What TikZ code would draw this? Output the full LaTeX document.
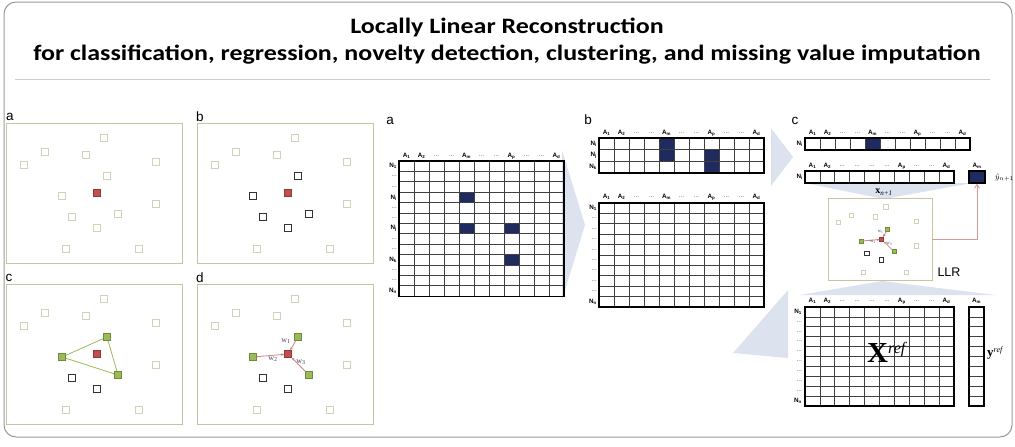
\documentclass[tikz,border=0pt]{standalone}
\usepackage{fontspec}
\setmainfont{Liberation Sans}
\newfontfamily\ttlfont[FakeStretch=1.18]{Carlito}
\newfontfamily\srf{Liberation Serif}
\usetikzlibrary{arrows.meta}
\definecolor{sqborder}{HTML}{D5D0BA}
\definecolor{boxc}{HTML}{C9C3A4}
\definecolor{redf}{HTML}{C0504D}
\definecolor{redb}{HTML}{943634}
\definecolor{greenf}{HTML}{9BBB59}
\definecolor{greenb}{HTML}{71893F}
\definecolor{wedgec}{HTML}{DCE2EE}
\definecolor{navy}{HTML}{1F2A5E}
\definecolor{wlinec}{HTML}{C98583}
\definecolor{arrowc}{HTML}{D49A98}
\definecolor{wtext}{HTML}{4A4560}
\tikzset{
  sq/.style={draw, minimum size=7pt, inner sep=0pt, line width=0.7pt},
  lsq/.style={sq, draw=sqborder, fill=white},
  rsq/.style={sq, draw=redb, fill=redf},
  gsq/.style={sq, draw=greenb, fill=greenf},
  ksq/.style={sq, draw=black!80, fill=white, line width=0.9pt},
  pbox/.style={draw=boxc, line width=0.9pt, minimum width=176pt, minimum height=140pt, inner sep=0pt, anchor=north west},
  gl/.style={draw=black!75, line width=0.7pt},
  go/.style={draw=black, line width=1.3pt},
  hd/.style={font=\fontsize{6.3}{6.3}\selectfont\bfseries, inner sep=0pt},
  rl/.style={font=\fontsize{6.3}{6.3}\selectfont\bfseries, inner sep=0pt, anchor=east},
  wedge/.style={fill=wedgec, draw=none},
  plab/.style={font=\fontsize{13.5}{13.5}\selectfont, inner sep=0pt},
  title/.style={font=\ttlfont\bfseries\fontsize{22}{26}\selectfont, anchor=base, inner sep=0pt},
  myframe/.style={draw=black!40, line width=1pt, rounded corners=12pt},
  wl/.style={draw=wlinec, line width=0.8pt, -{Stealth[length=3pt,width=2.6pt]}},
  tri/.style={draw=greenf, line width=0.8pt},
  wlab/.style={font=\srf\fontsize{8}{8}\selectfont, text=wtext, inner sep=0pt},
  rarr/.style={draw=arrowc, line width=0.8pt, -{Straight Barb[length=4pt,width=5pt]}},
}
\newcommand{\Ax}[1]{A\textsubscript{#1}}
\newcommand{\Nx}[1]{N\textsubscript{#1}}
\newcommand{\dd}{{\mdseries\textcolor{black!70}{...}}}
\newcommand{\tabgrid}[6]{%
  \foreach \ii in {0,...,#3} {\draw[gl] ({#1+\ii*#5},#2) -- ({#1+\ii*#5},{#2+#4*#6});}
  \foreach \jj in {0,...,#4} {\draw[gl] (#1,{#2+\jj*#6}) -- ({#1+#3*#5},{#2+\jj*#6});}
  \draw[go] (#1,#2) rectangle ({#1+#3*#5},{#2+#4*#6});
}
\newcommand{\navycell}[6]{\fill[navy] ({#1+(#4-1)*#5},{#2+(#3-1)*#6}) rectangle ++(#5,#6);}
\newcommand{\colheads}[5]{%
  \foreach \t [count=\cc] in {#5} {\node[hd] (#4h\cc) at ({#1+(\cc-0.5)*#3},#2) {\t};}
}
\newcommand{\rowlabs}[5]{%
  \foreach \t [count=\cc] in {#5} {\node[rl] (#4r\cc) at (#1,{#2+(\cc-0.5)*#3}) {\t};}
}
\newcommand{\drawpanel}[6]{%
  \node[pbox] (#1box) at (0,0) {};
  \foreach \n/\px/\py in {1/98/15,2/39/29,3/80/32,4/18/42,5/150/39,9/150/81,13/60/126,14/133/126}
    {\node[lsq] (#1p\n) at (\px,\py) {};}
  \node[#2] (#1n1) at (101,53) {};
  \node[#3] (#1n2) at (56,73) {};
  \node[#4] (#1n3) at (66,94) {};
  \node[#5] (#1n4) at (112,91) {};
  \node[#6] (#1n5) at (91,105) {};
  \node[rsq] (#1r) at (91,70) {};
}
\newcommand{\weights}[1]{%
  \draw[wl] (#1n1) -- (#1r);
  \draw[wl] (#1n2) -- (#1r);
  \draw[wl] (#1n4) -- (#1r);
  \node[wlab] (#1w1) at (89,57) {w\textsubscript{1}};
  \node[wlab] (#1w2) at (76,75) {w\textsubscript{2}};
  \node[wlab] (#1w3) at (104,78) {w\textsubscript{3}};
}
\begin{document}
\begin{tikzpicture}[x=1pt,y=-1pt]
\useasboundingbox (0,0) rectangle (1015,447);
\draw[myframe] (4,2) rectangle (1012,437);
\node[title] (t1) at (507,33) {Locally Linear Reconstruction};
\node[title] (t2) at (507,60) {for classification, regression, novelty detection, clustering, and missing value imputation};
\draw[black!20, line width=0.8pt] (15,79) -- (990,79);

% background wedges
\fill[wedge] (562,150) -- (585,225) -- (562,300) -- cycle;
\fill[wedge] (771,128) -- (793,157) -- (771,186) -- cycle;
\fill[wedge] (805,183) -- (972,183) -- (884,199) -- cycle;
\fill[wedge] (882,281) -- (995,295) -- (800,295) -- cycle;
\fill[wedge] (788,290) -- (788,358) -- (733,353) -- cycle;

% left panels
\node[plab] (la) at (10,117) {a};
\node[plab] (lb) at (200,117) {b};
\node[plab] (lc) at (9,278) {c};
\node[plab] (ld) at (200,278) {d};
\begin{scope}[shift={(6,123)}]
  \drawpanel{a}{lsq}{lsq}{lsq}{lsq}{lsq}
\end{scope}
\begin{scope}[shift={(197,123)}]
  \drawpanel{b}{ksq}{ksq}{ksq}{ksq}{ksq}
\end{scope}
\begin{scope}[shift={(6,284)}]
  \drawpanel{c}{gsq}{gsq}{ksq}{gsq}{ksq}
  \draw[tri] (cn2) -- (cn1) -- (cn4) -- (cn2);
  \node[gsq] at (cn1) {};
  \node[gsq] at (cn2) {};
  \node[gsq] at (cn4) {};
\end{scope}
\begin{scope}[shift={(197,284)}]
  \drawpanel{d}{gsq}{gsq}{ksq}{gsq}{ksq}
  \weights{d}
\end{scope}

% grid a
\node[plab] (ma) at (390,121) {a};
\foreach \r/\k in {4/5,7/5,7/8,10/8} {\navycell{399}{161}{\r}{\k}{15}{10.4}}
\tabgrid{399}{161}{11}{13}{15}{10.4}
\colheads{399}{156}{15}{ga}{\Ax{1},\Ax{2},\dd,\dd,\Ax{m},\dd,\dd,\Ax{p},\dd,\dd,\Ax{d}}
\rowlabs{397}{161}{10.4}{ga}{\Nx{1},\dd,\dd,\Nx{i},\dd,\dd,\Nx{j},\dd,\dd,\Nx{k},\dd,\dd,\Nx{n}}

% grid b
\node[plab] (mb) at (588,120) {b};
\foreach \r/\k in {1/5,2/5,2/8,3/8} {\navycell{599}{138}{\r}{\k}{15}{11.7}}
\tabgrid{599}{138}{11}{3}{15}{11.7}
\colheads{599}{133}{15}{gb}{\Ax{1},\Ax{2},\dd,\dd,\Ax{m},\dd,\dd,\Ax{p},\dd,\dd,\Ax{d}}
\rowlabs{597}{138}{11.7}{gb}{\Nx{i},\Nx{j},\Nx{k}}
\tabgrid{599}{203}{11}{10}{15}{10.4}
\colheads{599}{197}{15}{gc}{\Ax{1},\Ax{2},\dd,\dd,\Ax{m},\dd,\dd,\Ax{p},\dd,\dd,\Ax{d}}
\rowlabs{597}{203}{10.4}{gc}{\Nx{1},\dd,\dd,\dd,\dd,\dd,\dd,\dd,\dd,\Nx{n}}

% panel c
\node[plab] (mc) at (795,121) {c};
\navycell{805}{138}{1}{5}{15}{12}
\tabgrid{805}{138}{11}{1}{15}{12}
\colheads{805}{133}{15}{gd}{\Ax{1},\Ax{2},\dd,\dd,\Ax{m},\dd,\dd,\Ax{p},\dd,\dd,\Ax{d}}
\rowlabs{803}{138}{12}{gd}{\Nx{i}}
\tabgrid{805}{171}{10}{1}{14.9}{12}
\colheads{805}{166}{14.9}{ge}{\Ax{1},\Ax{2},\dd,\dd,\dd,\dd,\Ax{p},\dd,\dd,\Ax{d}}
\rowlabs{803}{171}{12}{ge}{\Nx{i}}
\node[fill=navy, draw=black, line width=1.2pt, minimum width=16pt, minimum height=12pt, inner sep=0pt] (yhat) at (977,177) {};
\node[hd] (yhh) at (977,166) {\Ax{m}};
\node[font=\srf\fontsize{8}{8}\selectfont, anchor=west, inner sep=0pt] (yhl) at (995,178) {$\hat{y}_{n+1}$};
\node[font=\srf\fontsize{10}{10}\selectfont, inner sep=0pt] (xl) at (884,192) {\textbf{x}\textsubscript{\itshape n+1}};

% LLR inset
\begin{scope}[shift={(828,198)}, scale=0.59, transform shape]
  \drawpanel{l}{gsq}{gsq}{ksq}{gsq}{ksq}
  \weights{l}
\end{scope}
\node[font=\fontsize{12.5}{12.5}\selectfont, inner sep=0pt] (llr) at (949,272) {LLR};
\draw[rarr] (lbox.east) -| (yhat.south);

% bottom grid
\tabgrid{805}{307}{10}{10}{14.9}{9.9}
\colheads{805}{301}{14.9}{gf}{\Ax{1},\Ax{2},\dd,\dd,\dd,\dd,\Ax{p},\dd,\dd,\Ax{d}}
\rowlabs{802}{307}{9.9}{gf}{\Nx{1},\dd,\dd,\dd,\dd,\dd,\dd,\dd,\dd,\Nx{n}}
\tabgrid{969}{307}{1}{10}{15}{9.9}
\node[hd] (ymh) at (976.5,301) {\Ax{m}};
\node[font=\srf, anchor=base west, inner sep=0pt] (xref) at (867,362) {{\fontsize{29}{29}\selectfont\bfseries X}\raisebox{9pt}{\fontsize{16}{16}\selectfont\itshape ref}};
\node[font=\srf, anchor=base west, inner sep=0pt] (yref) at (987,356) {{\fontsize{13}{13}\selectfont\bfseries y}\raisebox{4pt}{\fontsize{8}{8}\selectfont\itshape ref}};
\end{tikzpicture}
\end{document}
